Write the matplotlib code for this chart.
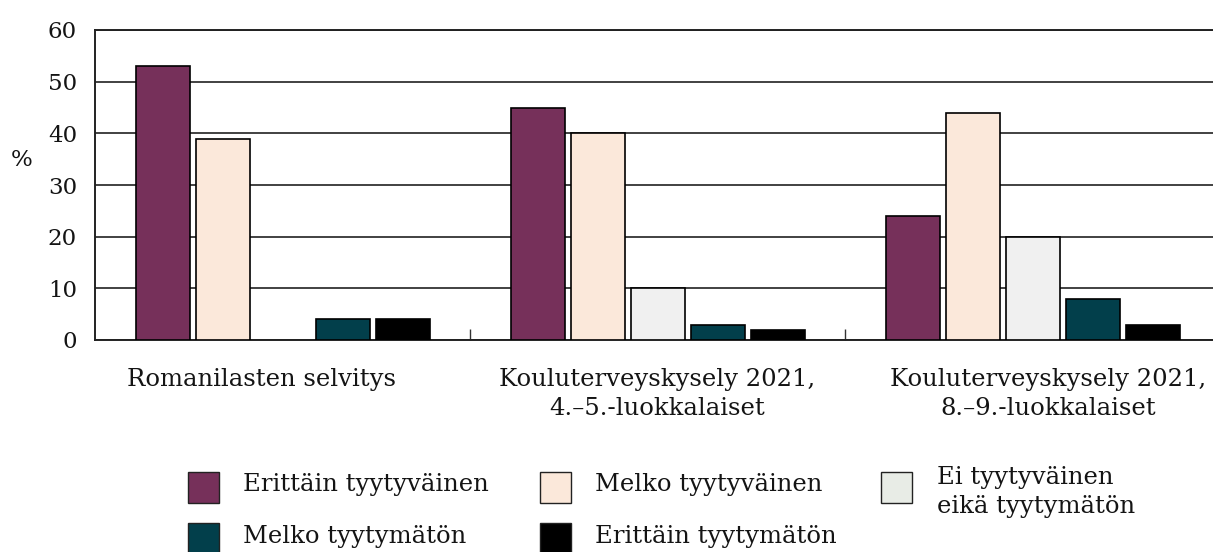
import numpy as np
import matplotlib.pyplot as plt
from matplotlib.patches import Rectangle
import matplotlib.transforms as mtransforms

plt.rcParams['font.family'] = ['DejaVu Serif']

groups = ['Romanilasten selvitys',
          'Kouluterveyskysely 2021,\n4.–5.-luokkalaiset',
          'Kouluterveyskysely 2021,\n8.–9.-luokkalaiset']
series = ['Erittäin tyytyväinen', 'Melko tyytyväinen',
          'Ei tyytyväinen\neikä tyytymätön', 'Melko tyytymätön', 'Erittäin tyytymätön']
erittain_tyytyvainen = [53, 45, 24]
melko_tyytyvainen = [39, 40, 44]
ei_kumpikaan = [0, 10, 20]
melko_tyytymaton = [4, 3, 8]
erittain_tyytymaton = [4, 2, 3]
values = [erittain_tyytyvainen, melko_tyytyvainen, ei_kumpikaan,
          melko_tyytymaton, erittain_tyytymaton]
colors = ['#76305A', '#FBE8DA', '#F0F0F0', '#023F4B', '#000000']
legend_colors = ['#76305A', '#FBE8DA', '#E8ECE6', '#023F4B', '#000000']
yticks = [0, 10, 20, 30, 40, 50, 60]

txt = '#141414'
fs = 16.5
fs_lab = 17.5
W, H = 1213, 552
fig = plt.figure(figsize=(W / 100, H / 100), dpi=100)
ax = fig.add_axes([95 / W, 1 - 340 / H, 1125 / W, 310 / H])

x = np.arange(len(groups))
step = 0.16
width = 0.144
for i, (vals, col) in enumerate(zip(values, colors)):
    v = np.array(vals, dtype=float)
    mask = v > 0
    ax.bar(x[mask] + (i - 2) * step, v[mask], width, color=col,
           edgecolor='black', linewidth=1.2, zorder=3)

ax.set_xlim(-0.5, 2.5)
ax.set_ylim(0, 60)
ax.set_yticks(yticks)
ax.yaxis.grid(True, color='#333333', linewidth=1.3, zorder=0)
ax.tick_params(axis='y', length=0, pad=13, labelsize=fs, labelcolor=txt)

ax.set_xticks(x)
ax.set_xticklabels(groups, fontsize=fs_lab, color=txt, linespacing=1.35)
ax.tick_params(axis='x', which='major', length=0, pad=20)
ax.set_xticks([0.5, 1.5], minor=True)
ax.tick_params(axis='x', which='minor', direction='in', length=8, width=1, color='#333333')

# label centres are not exactly on the group centres in the original
offsets = [-21, 0, 16]
for lab, dx in zip(ax.get_xticklabels(), offsets):
    lab.set_transform(lab.get_transform() + mtransforms.ScaledTranslation(dx / 100, 0, fig.dpi_scale_trans))

for s in ['left', 'top', 'bottom']:
    ax.spines[s].set_color('#222222')
    ax.spines[s].set_linewidth(1.4)
ax.spines['right'].set_visible(False)

fig.text(22 / W, 1 - 160 / H, '%', fontsize=fs, color=txt, ha='center', va='center')

# legend laid out like the original
slots = [(188, 487), (540, 487), (881, 487), (188, 538), (540, 538)]
text_x = [243, 595, 937, 243, 595]
text_y = [484, 484, 492, 537, 537]
for (px, py), tx, ty, lab, col in zip(slots, text_x, text_y, series, legend_colors):
    fig.add_artist(Rectangle((px / W, 1 - (py + 15.5) / H), 31 / W, 31 / H,
                             transform=fig.transFigure, facecolor=col,
                             edgecolor='#222222', linewidth=1.0))
    fig.text(tx / W, 1 - ty / H, lab, fontsize=fs_lab, color=txt,
             ha='left', va='center', linespacing=1.3)

fig.savefig('out.png', dpi=100)
